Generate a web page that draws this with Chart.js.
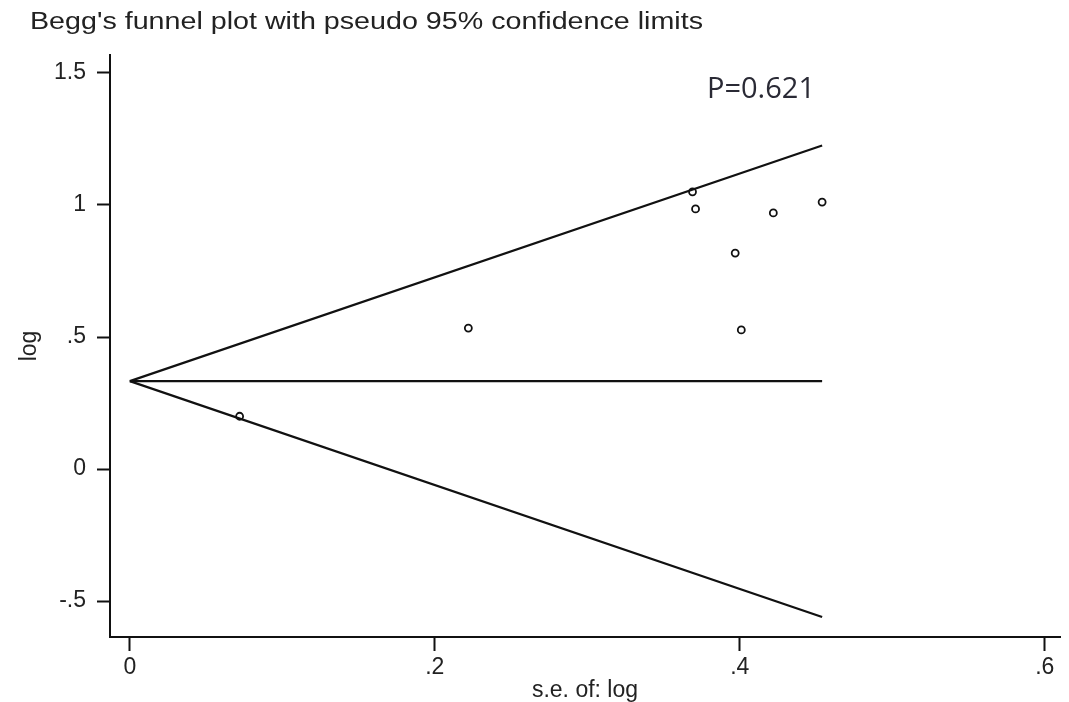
<!DOCTYPE html>
<html>
<head>
<meta charset="utf-8">
<script src="https://cdn.jsdelivr.net/npm/chart.js@4.4.1/dist/chart.umd.min.js"></script>
<style>
  html, body { margin: 0; padding: 0; background: #fff; }
  #wrap { width: 1069px; height: 702px; }
</style>
</head>
<body>
<div id="wrap"><canvas id="funnel"></canvas></div>
<script>
// study estimates (standard error, log effect)
const studySe = [0.072, 0.222, 0.369, 0.371, 0.397, 0.401, 0.422, 0.454];
const studyLog = [0.20, 0.534, 1.05, 0.985, 0.818, 0.527, 0.97, 1.011];

// pseudo 95% confidence limits and pooled estimate
const limitSe = [0, 0.454];
const upperLimit = [0.333, 1.225];
const lowerLimit = [0.333, -0.56];
const pooled = [0.333, 0.333];

const xTicks = [0, 0.2, 0.4, 0.6];
const yTicks = [-0.5, 0, 0.5, 1, 1.5];

const titleText = "Begg's funnel plot with pseudo 95% confidence limits";
const pText = "P=0.621";

function stataLabel(v) {
  if (v === 0) return "0";
  let s = String(Math.round(v * 10) / 10);
  return s.replace(/^(-?)0\./, "$1.");
}

const pairs = (xs, ys) => xs.map((x, i) => ({ x: x, y: ys[i] }));

const lineStyle = {
  type: "line",
  borderColor: "#111",
  borderWidth: 2.2,
  pointRadius: 0,
  fill: false,
  tension: 0,
};

const textPlugin = {
  id: "texts",
  afterDraw(chart) {
    const ctx = chart.ctx;
    ctx.save();
    // title, squeezed like the narrow Stata font
    ctx.font = "23px 'Liberation Sans', Arial, sans-serif";
    ctx.fillStyle = "#222";
    ctx.textBaseline = "alphabetic";
    ctx.textAlign = "left";
    const w = ctx.measureText(titleText).width;
    ctx.translate(30, 29);
    ctx.scale(673 / w, 1);
    ctx.fillText(titleText, 0, 0);
    ctx.restore();

    ctx.save();
    ctx.font = "29px 'Open Sans', 'Noto Sans', sans-serif";
    ctx.fillStyle = "#2a2a35";
    ctx.textAlign = "left";
    ctx.textBaseline = "alphabetic";
    ctx.fillText(pText, 707, 98);
    ctx.restore();
  },
};

new Chart(document.getElementById("funnel"), {
  type: "scatter",
  data: {
    datasets: [
      Object.assign({ label: "upper", data: pairs(limitSe, upperLimit) }, lineStyle),
      Object.assign({ label: "lower", data: pairs(limitSe, lowerLimit) }, lineStyle),
      Object.assign({ label: "pooled", data: pairs(limitSe, pooled) }, lineStyle),
      {
        label: "studies",
        data: pairs(studySe, studyLog),
        pointStyle: "circle",
        pointRadius: 3.5,
        borderWidth: 1.8,
        borderColor: "#111",
        backgroundColor: "#fff",
      },
    ],
  },
  options: {
    responsive: true,
    maintainAspectRatio: false,
    animation: false,
    layout: { padding: { top: 55, right: 9, left: 0, bottom: 0 } },
    plugins: { legend: { display: false }, tooltip: { enabled: false } },
    scales: {
      x: {
        type: "linear",
        min: -0.013,
        max: 0.61,
        afterFit: (s) => { s.height = 65; },
        afterBuildTicks: (s) => { s.ticks = xTicks.map((v) => ({ value: v })); },
        border: { color: "#111", width: 2 },
        grid: { drawOnChartArea: false, drawTicks: true, tickLength: 14, tickColor: "#111", tickWidth: 2 },
        ticks: {
          callback: (v) => stataLabel(v),
          color: "#222",
          padding: 3,
          maxRotation: 0,
          font: { family: "'Liberation Sans', Arial, sans-serif", size: 23 },
        },
        title: {
          display: true,
          text: "s.e. of: log",
          color: "#222",
          padding: { top: 0, bottom: 0 },
          font: { family: "'Liberation Sans', Arial, sans-serif", size: 23, lineHeight: 1 },
        },
      },
      y: {
        type: "linear",
        min: -0.636,
        max: 1.568,
        afterFit: (s) => { s.width = 110; },
        afterBuildTicks: (s) => { s.ticks = yTicks.map((v) => ({ value: v })); },
        border: { color: "#111", width: 2 },
        grid: { drawOnChartArea: false, drawTicks: true, tickLength: 13, tickColor: "#111", tickWidth: 2 },
        ticks: {
          callback: (v) => stataLabel(v),
          color: "#222",
          padding: 11,
          font: { family: "'Liberation Sans', Arial, sans-serif", size: 23 },
        },
        title: {
          display: true,
          text: "log",
          color: "#222",
          padding: { top: 16, bottom: 0 },
          font: { family: "'Liberation Sans', Arial, sans-serif", size: 23 },
        },
      },
    },
  },
  plugins: [textPlugin],
});
</script>
</body>
</html>
